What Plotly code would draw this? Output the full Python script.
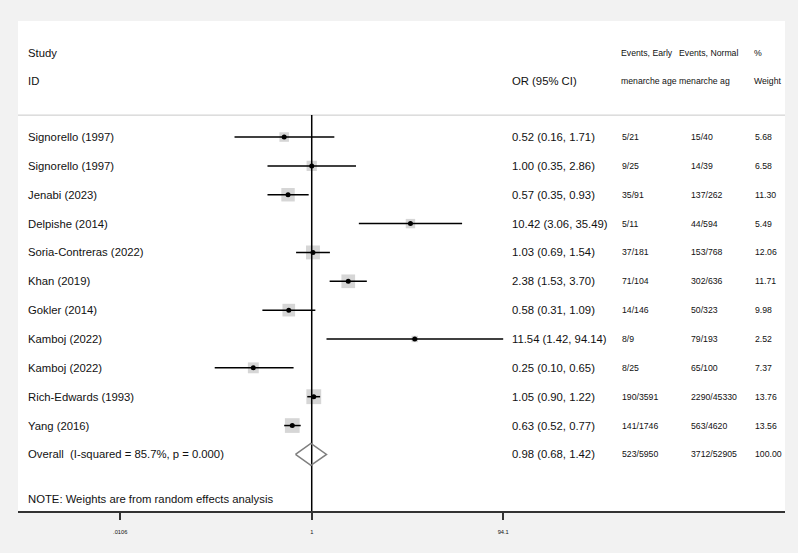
import plotly.graph_objects as go
import math

studies = ["Signorello (1997)", "Signorello (1997)", "Jenabi (2023)", "Delpishe (2014)",
           "Soria-Contreras (2022)", "Khan (2019)", "Gokler (2014)", "Kamboj (2022)",
           "Kamboj (2022)", "Rich-Edwards (1993)", "Yang (2016)"]
odds = [0.52, 1.00, 0.57, 10.42, 1.03, 2.38, 0.58, 11.54, 0.25, 1.05, 0.63]
ci_lo = [0.16, 0.35, 0.35, 3.06, 0.69, 1.53, 0.31, 1.42, 0.10, 0.90, 0.52]
ci_hi = [1.71, 2.86, 0.93, 35.49, 1.54, 3.70, 1.09, 94.14, 0.65, 1.22, 0.77]
events_early = ["5/21", "9/25", "35/91", "5/11", "37/181", "71/104", "14/146", "8/9",
                "8/25", "190/3591", "141/1746"]
events_normal = ["15/40", "14/39", "137/262", "44/594", "153/768", "302/636", "50/323",
                 "79/193", "65/100", "2290/45330", "563/4620"]
weights = [5.68, 6.58, 11.30, 5.49, 12.06, 11.71, 9.98, 2.52, 7.37, 13.76, 13.56]

overall_label = "Overall\u00a0 (I-squared = 85.7%, p = 0.000)"
overall_or, overall_lo, overall_hi = 0.98, 0.68, 1.42
overall_early, overall_normal, overall_weight = "523/5950", "3712/52905", 100.00

tick_vals = [0.0106, 1, 94.1]
tick_text = [".0106", "1", "94.1"]

n = len(studies)
rows = list(range(n))
overall_row = n

FONT = "Liberation Sans, Arial, sans-serif"
BIG = 11.3
SMALL = 8.7
TXT = "#111111"

# pixel geometry helper (plot area 18..785 px horizontally)
def px(xp):
    return (xp - 18) / 767.0

fig = go.Figure()

# weighted squares
fig.add_trace(go.Scatter(
    x=odds, y=rows, mode="markers",
    marker=dict(symbol="square", color="#c4c4c4",
                size=[4.0 * math.sqrt(w) for w in weights], line=dict(width=0)),
    hoverinfo="skip", showlegend=False))

# null line
fig.add_trace(go.Scatter(x=[1, 1], y=[-0.76, 12.962], mode="lines",
                         line=dict(color="black", width=1.5),
                         hoverinfo="skip", showlegend=False))

# CI lines
cx, cy = [], []
for r, a, b in zip(rows, ci_lo, ci_hi):
    cx += [a, b, None]
    cy += [r, r, None]
fig.add_trace(go.Scatter(x=cx, y=cy, mode="lines", line=dict(color="black", width=1.5),
                         hoverinfo="skip", showlegend=False))

# point estimates
fig.add_trace(go.Scatter(x=odds, y=rows, mode="markers",
                         marker=dict(symbol="circle", color="black", size=5),
                         hoverinfo="skip", showlegend=False))

# overall diamond
h = 0.38
fig.add_trace(go.Scatter(
    x=[overall_lo, overall_or, overall_hi, overall_or, overall_lo],
    y=[overall_row, overall_row - h, overall_row, overall_row + h, overall_row],
    mode="lines", line=dict(color="#7f7f7f", width=1.5),
    hoverinfo="skip", showlegend=False))

ann = []
def add(text, xp, y, size):
    ann.append(dict(text=text, x=px(xp - 2), y=y, xref="paper", yref="y",
                    xanchor="left", yanchor="middle", showarrow=False,
                    font=dict(family=FONT, size=size, color=TXT)))

# headers
add("Study", 27.5, -2.92, BIG)
add("ID", 27.5, -1.95, BIG)
add("OR (95% CI)", 511.5, -1.95, BIG)
add("Events, Early", 621, -2.92, SMALL)
add("menarche age", 621, -1.95, SMALL)
add("Events, Normal", 679, -2.92, SMALL)
add("menarche ag", 679, -1.95, SMALL)
add("%", 754, -2.92, SMALL)
add("Weight", 754, -1.95, SMALL)

for r in rows:
    add(studies[r], 27.5, r, BIG)
    add(f"{odds[r]:.2f} ({ci_lo[r]:.2f}, {ci_hi[r]:.2f})", 511.5, r, BIG)
    add(events_early[r], 622, r, SMALL)
    add(events_normal[r], 690.5, r, SMALL)
    add(f"{weights[r]:.2f}", 754.5, r, SMALL)

add(overall_label, 27.5, overall_row, BIG)
add(f"{overall_or:.2f} ({overall_lo:.2f}, {overall_hi:.2f})", 511.5, overall_row, BIG)
add(overall_early, 622, overall_row, SMALL)
add(overall_normal, 690.5, overall_row, SMALL)
add(f"{overall_weight:.2f}", 754.5, overall_row, SMALL)

add("NOTE: Weights are from random effects analysis", 27.5, 12.55, BIG)

fig.update_layout(
    width=798, height=553,
    margin=dict(l=18, r=13, t=21, b=42),
    paper_bgcolor="#f2f2f2", plot_bgcolor="white",
    annotations=ann,
    shapes=[dict(type="line", xref="paper", yref="y", x0=0, x1=1, y0=-0.76, y1=-0.76,
                 line=dict(color="#c8c8c8", width=1), layer="below")],
    xaxis=dict(type="log", range=[-3.028, 4.879], showgrid=False, zeroline=False,
               showline=True, linecolor="#333333", linewidth=2,
               ticks="outside", ticklen=7, tickwidth=1.5, tickcolor="#333333",
               ticklabelstandoff=7,
               tickvals=tick_vals, ticktext=tick_text,
               tickfont=dict(family=FONT, size=5.7, color=TXT), fixedrange=True),
    yaxis=dict(range=[12.962, -4.022], showgrid=False, zeroline=False, showline=False,
               showticklabels=False, ticks="", fixedrange=True),
    showlegend=False,
)

fig.write_html("out.html", post_script="document.body.style.margin='0';",
               config={"displayModeBar": False})
